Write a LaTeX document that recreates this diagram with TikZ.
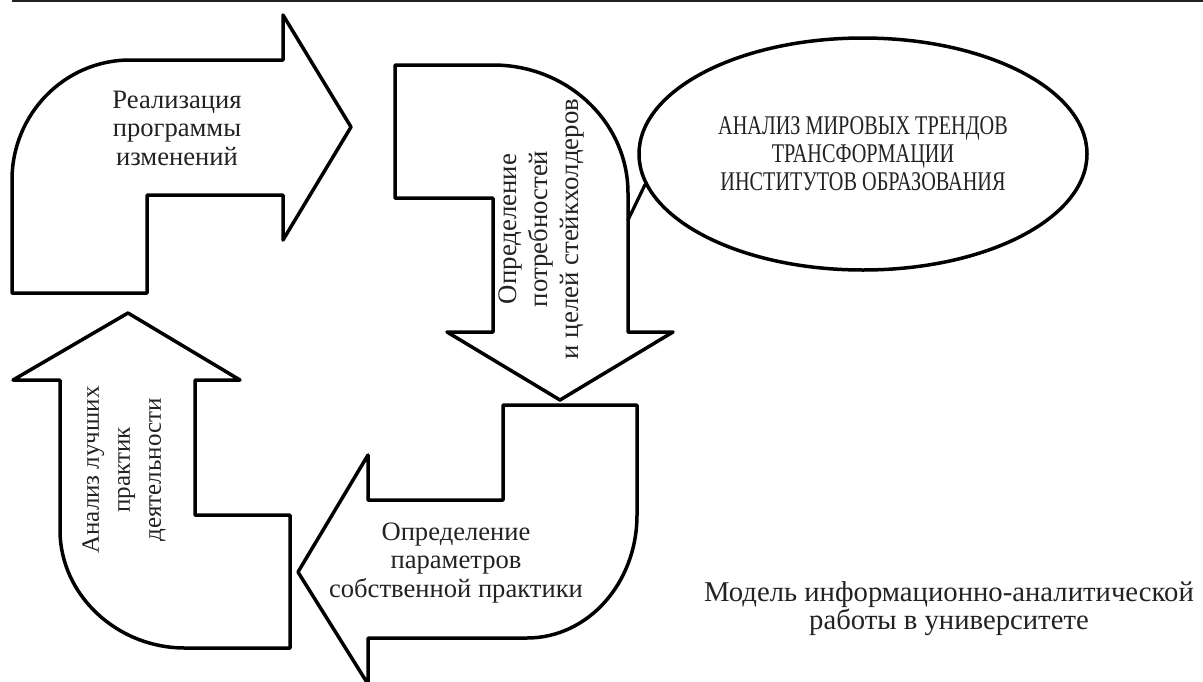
\documentclass[tikz,border=0pt]{standalone}
\usepackage{fontspec}
\setmainfont{Liberation Serif}
\newfontfamily\condfont[FakeStretch=0.75]{Liberation Serif}
\usetikzlibrary{shapes.geometric}
\definecolor{ink}{HTML}{222222}
\begin{document}
\begin{tikzpicture}[x=1pt,y=-1pt,
  bentarrow/.style={draw=black, line width=3.5pt, line join=round, fill=white},
  lbl/.style={align=center, text=ink, inner sep=0pt, font=\fontsize{26.6}{28.5}\selectfont},
  vlbl/.style={align=center, text=ink, inner sep=0pt, rotate=90, font=\fontsize{26.8}{31}\selectfont},
  bubble/.style={ellipse, draw=black, line width=3.5pt, fill=white, inner sep=0pt,
    minimum width=448pt, minimum height=232pt, align=center, text=ink,
    font=\condfont\fontsize{27}{28}\selectfont},
]
\useasboundingbox (0,0) rectangle (1203,681);
% top rule
\coordinate (ruleL) at (12,1);
\coordinate (ruleR) at (1203,1);
\draw[line width=2pt, ink] (ruleL) -- (ruleR);

% arrow 1: right-pointing
\draw[bentarrow] (12,293) -- (147,293) -- (147,195) -- (283,195) -- (283,240)
  -- (351,127) -- (283,15) -- (283,60) -- (130,60)
  .. controls (64.8,60) and (12,113.8) .. (12,180) -- cycle;
% arrow 2: down-pointing
\draw[bentarrow] (395,65) -- (493,65)
  .. controls (567.5,65) and (628,122.3) .. (628,193) -- (628,332) -- (673,332)
  -- (560,400) -- (447,332) -- (493,332) -- (493,198) -- (395,198) -- cycle;
% arrow 3: left-pointing
\draw[bentarrow] (503,405) -- (637,405) -- (637,515)
  .. controls (637,583) and (588,638) .. (527,638) -- (368,638) -- (368,684)
  -- (298,572) -- (368,455) -- (368,500) -- (503,500) -- cycle;
% arrow 4: up-pointing
\draw[bentarrow] (128,313) -- (240,380) -- (195,380) -- (195,515) -- (290,515)
  -- (290,648) -- (185,648) .. controls (117,648) and (60,595) .. (60,530)
  -- (60,380) -- (13,380) -- cycle;

% labels
\node[lbl] (t1) at (177,128) {Реализация\\программы\\изменений};
\node[vlbl] (t2) at (541,229) {Определение\\потребностей\\и целей стейкхолдеров};
\node[lbl] (t3) at (456,563) {Определение\\параметров\\собственной практики};
\node[vlbl, font=\fontsize{25}{31}\selectfont] (t4) at (124,470) {Анализ лучших\\практик\\деятельности};

% callout
\node[bubble] (ell) at (863,154) {АНАЛИЗ МИРОВЫХ ТРЕНДОВ\\ТРАНСФОРМАЦИИ\\ИНСТИТУТОВ ОБРАЗОВАНИЯ};
\coordinate (c2) at (628,220);
\draw[line width=3.2pt, line cap=round] (ell.188) -- (c2);

% caption
\node[lbl, font=\fontsize{28.7}{28}\selectfont] (cap) at (949,609)
  {Модель информационно-аналитической\\работы в университете};
\end{tikzpicture}
\end{document}
